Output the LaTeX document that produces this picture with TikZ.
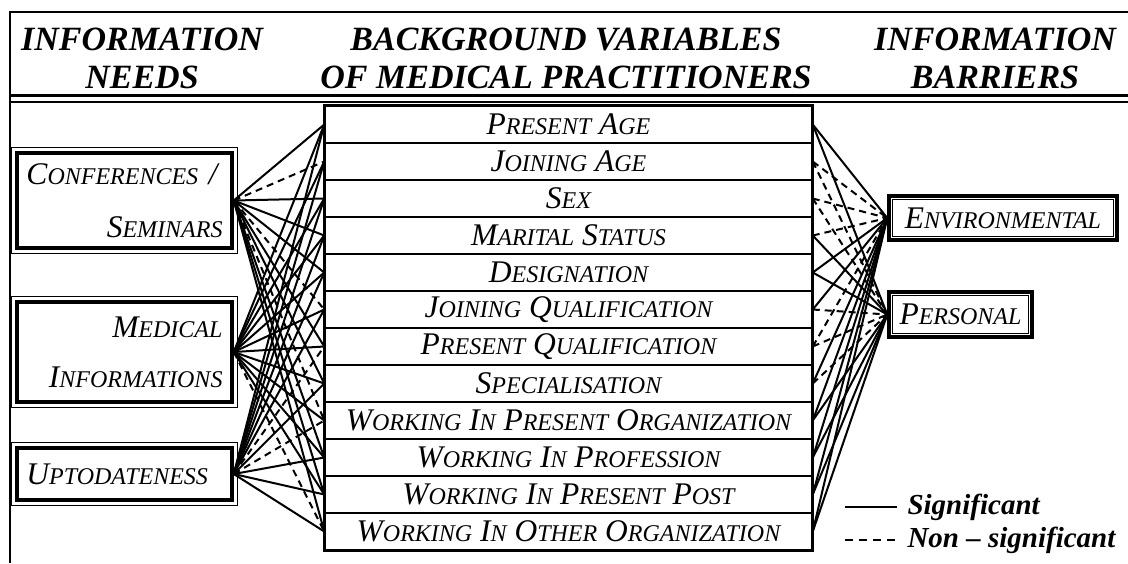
\documentclass[tikz,border=0pt]{standalone}
\usepackage{fontspec}
\setmainfont{Liberation Serif}
\usetikzlibrary{positioning}
% small caps by hand: full size initial, smaller rest
\newcommand{\lbfont}{\fontsize{31.5}{33}\selectfont\itshape}
\newcommand{\scf}{\fontsize{24}{26}\selectfont}
\newcommand{\sk}[2]{#1{\scf #2}}
\newcommand{\hdfont}{\fontsize{34}{38}\selectfont\bfseries\itshape}

\tikzset{
  var/.style={draw, line width=1.5pt, minimum width=487pt, minimum height=37pt,
              inner sep=0pt, font=\lbfont},
  need/.style={draw, line width=3.5pt, inner xsep=0pt, font=\lbfont},
  head/.style={align=center, font=\hdfont},
  sig/.style={line width=2pt},
  nsig/.style={line width=2pt, dash pattern=on 7pt off 5pt},
  legend/.style={anchor=west, font=\fontsize{29}{31}\selectfont\bfseries\itshape}
}

\begin{document}
\begin{tikzpicture}[x=1pt, y=-1pt]
  \useasboundingbox (0,0) rectangle (1128,563);
  % frame and header rules
  \draw[line width=1.5pt] (10,563) -- (10,12) -- (1128,12);
  \draw[line width=3pt] (10,95) -- (1128,95);
  \draw[line width=1.2pt] (10,102) -- (1128,102);
  \node[head, anchor=base] (hneeds) at (142,88) {INFORMATION\\NEEDS};
  \node[head, anchor=base] (hvars) at (566,88) {BACKGROUND VARIABLES\\OF MEDICAL PRACTITIONERS};
  \node[head, anchor=base] (hbarr) at (995,88) {INFORMATION\\BARRIERS};

  % background variables
  \foreach \n/\t in {1/{\sk{P}{RESENT} \sk{A}{GE}},
                     2/{\sk{J}{OINING} \sk{A}{GE}},
                     3/{\sk{S}{EX}},
                     4/{\sk{M}{ARITAL} \sk{S}{TATUS}},
                     5/{\sk{D}{ESIGNATION}},
                     6/{\sk{J}{OINING} \sk{Q}{UALIFICATION}},
                     7/{\sk{P}{RESENT} \sk{Q}{UALIFICATION}},
                     8/{\sk{S}{PECIALISATION}},
                     9/{\sk{W}{ORKING} \sk{I}{N} \sk{P}{RESENT} \sk{O}{RGANIZATION}},
                     10/{\sk{W}{ORKING} \sk{I}{N} \sk{P}{ROFESSION}},
                     11/{\sk{W}{ORKING} \sk{I}{N} \sk{P}{RESENT} \sk{P}{OST}},
                     12/{\sk{W}{ORKING} \sk{I}{N} \sk{O}{THER} \sk{O}{RGANIZATION}}}
    \node[var] (v\n) at (568.5,{87.5+37*\n}) {\t};
  \draw[line width=2.5pt] (v1.north west) rectangle (v12.south east);

  % information needs
  \node[need, minimum width=215pt, minimum height=95pt, text width=196pt, align=right]
    (conf) at (124.5,200.5)
    {\makebox[196pt][l]{\sk{C}{ONFERENCES} /}\\[20pt]\sk{S}{EMINARS}};
  \node[need, minimum width=215pt, minimum height=100pt, text width=196pt, align=right]
    (med) at (124.5,352) {\sk{M}{EDICAL}\\[17pt]\sk{I}{NFORMATIONS}};
  \node[need, minimum width=215pt, minimum height=52pt, text width=196pt, align=left]
    (upto) at (124.5,474) {\sk{U}{PTODATENESS}};
  \foreach \b in {conf,med,upto}
    \draw[line width=1pt] ([shift={(-4,-4)}]\b.north west) rectangle ([shift={(4,4)}]\b.south east);

  % information barriers
  \node[need, minimum width=228pt, minimum height=44pt] (env) at (1003,218) {\sk{E}{NVIRONMENTAL}};
  \node[need, minimum width=143pt, minimum height=45pt] (pers) at (960.5,314.5) {\sk{P}{ERSONAL}};
  \foreach \b in {env,pers}
    \draw[line width=1pt] ([shift={(5,5)}]\b.north west) rectangle ([shift={(-5,-5)}]\b.south east);

  % needs -- variables
  \foreach \r/\s in {1/sig,2/nsig,3/sig,4/sig,5/sig,6/nsig,7/sig,8/sig,9/nsig,10/sig,11/sig,12/sig}
    \draw[\s] (conf.east) -- (v\r.west);
  \foreach \r/\s in {1/sig,2/sig,3/sig,4/sig,5/sig,6/sig,7/sig,8/sig,9/sig,10/sig,11/sig,12/nsig}
    \draw[\s] (med.east) -- (v\r.west);
  \foreach \r/\s in {1/sig,2/sig,3/sig,4/sig,5/sig,6/sig,7/nsig,8/sig,9/nsig,10/sig,11/sig,12/sig}
    \draw[\s] (upto.east) -- (v\r.west);

  % variables -- barriers
  \foreach \r/\s in {1/sig,2/nsig,3/nsig,4/nsig,5/sig,6/sig,7/nsig,8/sig,9/sig,10/sig,11/sig,12/sig}
    \draw[\s] (v\r.east) -- (env.west);
  \foreach \r/\s in {1/sig,2/nsig,3/nsig,4/sig,5/sig,6/nsig,7/nsig,8/nsig,9/sig,10/sig,11/sig,12/sig}
    \draw[\s] (v\r.east) -- (pers.west);

  % legend
  \coordinate (s1) at (845,507);
  \coordinate (s2) at (897,507);
  \coordinate (n1) at (845,540);
  \coordinate (n2) at (897,540);
  \draw[sig] (s1) -- (s2);
  \draw[nsig, dash pattern=on 8pt off 6pt] (n1) -- (n2);
  \node[legend] (lsig) at (904,507) {Significant};
  \node[legend] (lnsig) at (904,540) {Non -- significant};
\end{tikzpicture}
\end{document}
